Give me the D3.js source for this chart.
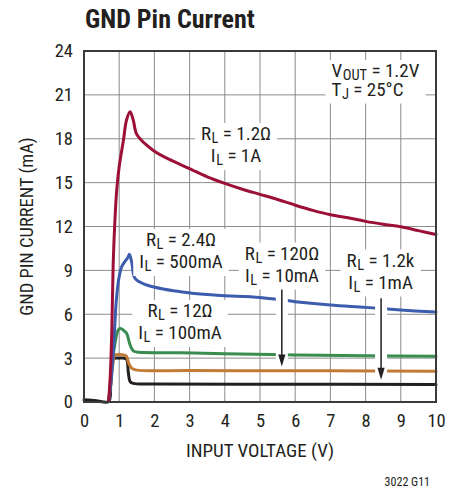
<!DOCTYPE html>
<html><head><meta charset="utf-8">
<script src="https://cdn.jsdelivr.net/npm/d3@7"></script>
<style>
html,body{margin:0;padding:0;background:#fff;}
svg text{font-family:"Liberation Sans Narrow","Roboto Condensed","Liberation Sans",Arial,sans-serif;fill:#231f20;}
</style></head>
<body><svg id="c" width="460" height="489"></svg>
<script>
// ---- data ----
const xTicks = [0,1,2,3,4,5,6,7,8,9,10];
const yTicks = [0,3,6,9,12,15,18,21,24];

// RL = 1.2k, IL = 1mA (black)
const blackV = [0, 0.35, 0.7, 0.76, 0.83, 1.0, 1.2, 1.26, 1.31, 1.40, 2, 5, 10];
const blackI = [0.15, 0.08, 0.03, 1.2, 2.95, 3.0, 2.95, 2.0, 1.4, 1.27, 1.23, 1.22, 1.2];
// RL = 120Ω, IL = 10mA (orange)
const orangeV = [0.7, 0.76, 0.82, 0.88, 1.0, 1.15, 1.21, 1.28, 1.36, 1.5, 3, 5, 7, 10];
const orangeI = [0.03, 1.2, 2.6, 3.2, 3.25, 3.2, 3.1, 2.6, 2.3, 2.18, 2.15, 2.14, 2.13, 2.1];
// RL = 12Ω, IL = 100mA (green)
const greenV = [0.7, 0.76, 0.83, 0.88, 0.95, 1.0, 1.07, 1.15, 1.21, 1.31, 1.40, 1.5, 2.73, 4, 6, 8, 10];
const greenI = [0.03, 1.5, 3.2, 4.0, 4.8, 5.0, 5.0, 4.85, 4.7, 3.9, 3.5, 3.42, 3.37, 3.3, 3.22, 3.17, 3.12];
// RL = 2.4Ω, IL = 500mA (blue)
const blueV = [0.7, 0.76, 0.82, 0.87, 0.91, 0.98, 1.07, 1.16, 1.25, 1.29, 1.36, 1.45, 1.78, 2.73, 3.77, 5, 6, 7, 8, 9, 10];
const blueI = [0.03, 1.2, 3.0, 5.0, 6.7, 8.3, 9.25, 9.6, 9.9, 10.1, 9.5, 8.45, 8.0, 7.54, 7.3, 7.15, 6.86, 6.63, 6.47, 6.29, 6.15];
// RL = 1.2Ω, IL = 1A (red)
const redV = [0.7, 0.75, 0.79, 0.83, 0.88, 0.93, 1.0, 1.12, 1.21, 1.31, 1.40, 1.51, 1.97, 2.5, 3, 3.5, 4, 4.5, 5, 5.5, 6, 6.5, 7, 7.5, 8, 8.5, 9, 9.5, 10];
const redI = [0.03, 2.0, 4.9, 9.5, 12.5, 14.5, 16.1, 17.9, 19.3, 19.85, 19.27, 18.25, 17.2, 16.5, 15.95, 15.4, 14.95, 14.55, 14.2, 13.85, 13.46, 13.1, 12.8, 12.6, 12.35, 12.15, 11.98, 11.72, 11.45];

const seriesNames = ["black","orange","green","blue","red"];
const seriesColors = ["#231f20","#c27a37","#3a8c4f","#3d5cae","#9c1038"];

// ---- chart ----
const svg = d3.select("#c");
const M = {l:84, r:436, t:51, b:402};
const x = d3.scaleLinear().domain([0,10]).range([M.l, M.r]);
const y = d3.scaleLinear().domain([0,24]).range([M.b, M.t]);

// grid
const grid = svg.append("g");
grid.selectAll("line.v").data(xTicks.slice(1,-1)).join("line")
  .attr("x1",d=>x(d)).attr("x2",d=>x(d)).attr("y1",M.t).attr("y2",M.b)
  .attr("stroke","#8c8c8c").attr("stroke-width",1);
grid.selectAll("line.h").data(yTicks.slice(1,-1)).join("line")
  .attr("y1",d=>y(d)).attr("y2",d=>y(d)).attr("x1",M.l).attr("x2",M.r)
  .attr("stroke","#8c8c8c").attr("stroke-width",1);

// axes (labels only)
const xAxis = d3.axisBottom(x).tickValues(xTicks).tickSize(0).tickPadding(12).tickFormat(d3.format("d"));
const gx = svg.append("g").attr("transform",`translate(0,${M.b})`).call(xAxis);
gx.select(".domain").remove();
gx.selectAll("text").attr("font-size",18.5).attr("fill","#231f20")
  .style("font-family",'"Liberation Sans Narrow","Roboto Condensed",Arial,sans-serif');
const yAxis = d3.axisLeft(y).tickValues(yTicks).tickSize(0).tickPadding(11).tickFormat(d3.format("d"));
const gy = svg.append("g").attr("transform",`translate(${M.l},0)`).call(yAxis);
gy.select(".domain").remove();
gy.selectAll("text").attr("font-size",18.5).attr("fill","#231f20")
  .style("font-family",'"Liberation Sans Narrow","Roboto Condensed",Arial,sans-serif');

// curves
const seriesData = [
  d3.zip(blackV, blackI), d3.zip(orangeV, orangeI), d3.zip(greenV, greenI),
  d3.zip(blueV, blueI), d3.zip(redV, redI)
];
const lineWrap = d3.line().x(d=>x(d[0])).y(d=>y(d[1])).curve(d3.curveCatmullRom.alpha(0.5));
svg.append("g").selectAll("path").data(seriesData).join("path")
  .attr("d", d=>lineWrap(d)).attr("fill","none")
  .attr("stroke",(d,i)=>seriesColors[i]).attr("stroke-width",3)
  .attr("stroke-linejoin","round").attr("stroke-linecap","round");

// arrows
const arrows = [
  {v:5.62, from:7.8, to:2.42},
  {v:8.44, from:7.1, to:1.52}
];
const ag = svg.append("g");
arrows.forEach(a=>{
  ag.append("line").attr("x1",x(a.v)).attr("x2",x(a.v)).attr("y1",y(a.from)).attr("y2",y(a.to)-2)
    .attr("stroke","#fff").attr("stroke-width",12);
});
arrows.forEach(a=>{
  const xv = x(a.v), yt = y(a.to);
  ag.append("line").attr("x1",xv).attr("x2",xv).attr("y1",y(a.from)).attr("y2",yt-10)
    .attr("stroke","#231f20").attr("stroke-width",1.5);
  ag.append("path").attr("d",`M${xv-3.6},${yt-12} L${xv+3.6},${yt-12} L${xv},${yt} Z`).attr("fill","#231f20");
});

// labels
const labels = [
  {cx:236, by:140, lines:[["R","L"," = 1.2Ω"],["I","L"," = 1A"]]},
  {cx:181, by:246, lines:[["R","L"," = 2.4Ω"],["I","L"," = 500mA"]]},
  {cx:180, by:317, lines:[["R","L"," = 12Ω"],["I","L"," = 100mA"]]},
  {cx:282, by:259.5, lines:[["R","L"," = 120Ω"],["I","L"," = 10mA"]]},
  {cx:380.5, by:266.5, lines:[["R","L"," = 1.2k"],["I","L"," = 1mA"]]}
];
const lg = svg.append("g");
function block(g, lines, xPos, by, gap, anchor){
  const bg = g.append("rect").attr("fill","#fff");
  const texts = [];
  lines.forEach((ln,i)=>{
    const t = g.append("text").attr("x",xPos).attr("y",by+i*gap).attr("font-size",19).attr("text-anchor",anchor);
    t.append("tspan").text(ln[0]);
    t.append("tspan").text(ln[1]).attr("font-size",14.5).attr("dy",3).attr("dx",0.6);
    t.append("tspan").text(ln[2]).attr("dy",-3);
    texts.push(t);
  });
  let x0=1e9,x1=-1e9,y0=1e9,y1=-1e9;
  texts.forEach(t=>{const b=t.node().getBBox(); x0=Math.min(x0,b.x);x1=Math.max(x1,b.x+b.width);y0=Math.min(y0,b.y);y1=Math.max(y1,b.y+b.height);});
  bg.attr("x",x0-6).attr("y",y0+1).attr("width",x1-x0+12).attr("height",y1-y0);
}
labels.forEach(L=>block(lg.append("g"), L.lines, L.cx, L.by, 22, "middle"));
block(lg.append("g"), [["V","OUT"," = 1.2V"],["T","J"," = 25°C"]], 331.5, 77, 18.5, "start");

// frame
svg.append("rect").attr("x",M.l).attr("y",M.t).attr("width",M.r-M.l).attr("height",M.b-M.t)
  .attr("fill","none").attr("stroke","#3a3a3a").attr("stroke-width",2);

// titles
svg.append("text").attr("x",85).attr("y",27.5).attr("font-size",26).attr("font-weight","bold")
  .text("GND Pin Current");
svg.append("text").attr("x",(M.l+M.r)/2).attr("y",457).attr("text-anchor","middle").attr("font-size",19)
  .text("INPUT VOLTAGE (V)");
svg.append("text").attr("transform",`translate(33,${(M.t+M.b)/2}) rotate(-90)`).attr("text-anchor","middle").attr("font-size",18.5)
  .text("GND PIN CURRENT (mA)");
svg.append("text").attr("x",430).attr("y",486).attr("text-anchor","end").attr("font-size",12)
  .text("3022 G11");
</script></body></html>
